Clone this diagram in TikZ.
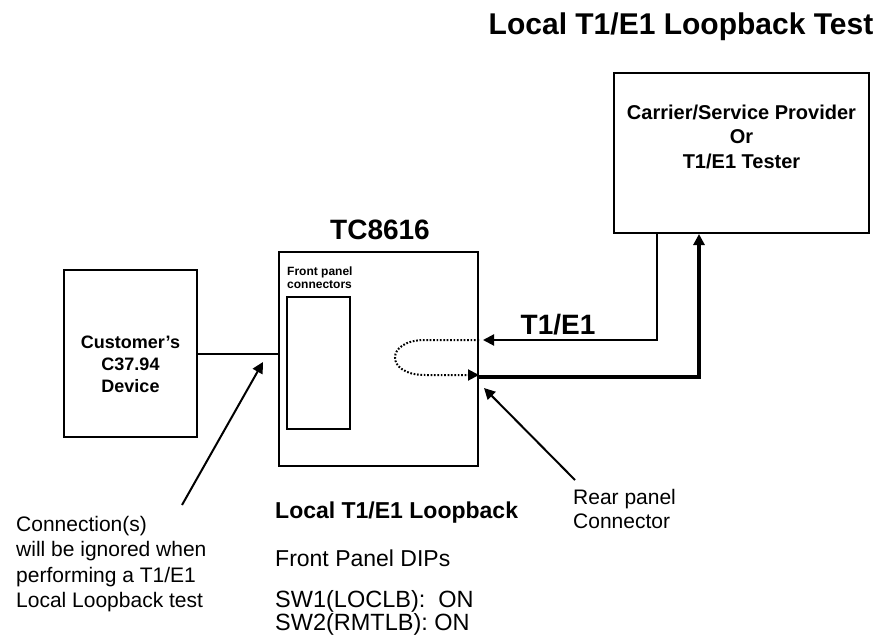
\documentclass[tikz,border=0pt]{standalone}
\usepackage{fontspec}
\setmainfont{Liberation Sans}
\usetikzlibrary{arrows.meta}
\begin{document}
\begin{tikzpicture}[x=1pt,y=-1pt,
  box/.style={draw, line width=2pt, minimum width=#1, inner sep=0pt},
  conn/.style={line width=2pt},
  thickconn/.style={line width=4pt},
  loopline/.style={line width=2pt, dash pattern=on 1.7pt off 1.7pt},
  tip/.style={-{Triangle[length=11pt,width=11pt]}},
  txt/.style={inner sep=0pt, align=#1},
  txt/.default=left,
  every node/.style={inner sep=0pt}
]
\useasboundingbox (0,0) rectangle (883,639);

% boxes
\node[box=255pt, minimum height=160pt] (carrier) at (741.5,153) {};
\node[box=199pt, minimum height=214pt] (tc) at (378.5,359) {};
\node[draw, line width=1.8pt, minimum width=63pt, minimum height=132pt] (inner) at (318.5,363) {};
\node[box=133pt, minimum height=167pt] (cust) at (130.5,353.5) {};

% texts
\node[font=\bfseries\fontsize{30}{36}\selectfont] (title) at (681,27) {Local T1/E1 Loopback Test};
\node[txt=center, font=\bfseries\fontsize{20}{24.5}\selectfont] (carriertxt) at (741.5,136.5)
  {Carrier/Service Provider\\Or\\T1/E1 Tester};
\node[font=\bfseries\fontsize{28}{32}\selectfont] (tclabel) at (380,230) {TC8616};
\node[txt=left, anchor=west, font=\bfseries\fontsize{12}{13}\selectfont] (fpc) at (287,277.5)
  {Front panel\\connectors};
\node[txt=center, font=\bfseries\fontsize{18}{22}\selectfont] (custtxt) at (130.5,364)
  {Customer's\\C37.94\\Device};
\node[font=\bfseries\fontsize{28}{32}\selectfont] (t1e1) at (558,325) {T1/E1};
\node[txt=left, anchor=west, font=\fontsize{21}{25.3}\selectfont] (ignore) at (16,564)
  {Connection(s)\\will be ignored when\\performing a T1/E1\\Local Loopback test};
\node[anchor=west, font=\bfseries\fontsize{23}{27}\selectfont] (loclb) at (275,513) {Local T1/E1 Loopback};
\node[anchor=west, font=\fontsize{23}{27}\selectfont] (dips) at (275,558) {Front Panel DIPs};
\node[txt=left, anchor=west, font=\fontsize{23.5}{20}\selectfont] (sw) at (275,613)
  {SW1(LOCLB):\ \ ON\\SW2(RMTLB): ON};
\node[txt=left, anchor=west, font=\fontsize{21}{24}\selectfont] (rear) at (573,509)
  {Rear panel\\Connector};

% coordinates
\coordinate (rxin) at (483,340);
\coordinate (ignoretail) at (182,505);
\coordinate (ignoretip) at (263,362);
\coordinate (reartail) at (575,480);
\coordinate (reartip) at (484,388);

% connectors
\draw[conn] (cust.east) -- (cust.east -| tc.west);
\draw[conn, tip] (carrier.south -| 657,0) |- (rxin);
\draw[thickconn, tip] (tc.east |- 0,377) -| (carrier.south -| 699,0);
\draw[loopline, tip] (tc.east |- 0,340) -- (425,340)
  .. controls (385,340) and (385,375) .. (425,375) -- (tc.east |- 0,375);
\draw[conn, tip] (ignoretail) -- (ignoretip);
\draw[conn, tip] (reartail) -- (reartip);
\end{tikzpicture}
\end{document}
